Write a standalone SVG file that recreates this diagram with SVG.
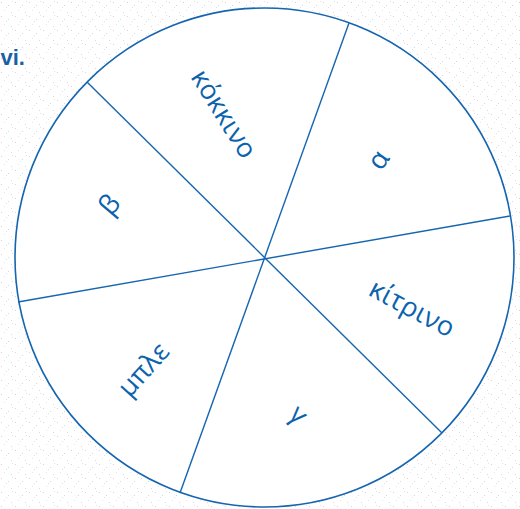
<svg xmlns="http://www.w3.org/2000/svg" width="520" height="509" viewBox="0 0 520 509">
<defs>
<pattern id="speck" width="14" height="14" patternUnits="userSpaceOnUse">
<rect width="14" height="14" fill="#ffffff"/>
<rect x="1" y="2" width="1" height="1" fill="#f0c9d4"/>
<rect x="8" y="5" width="1" height="1" fill="#c6def2"/>
<rect x="4" y="10" width="1" height="1" fill="#e6e6e6"/>
<rect x="11" y="12" width="1" height="1" fill="#eed0da"/>
<rect x="12" y="1" width="1" height="1" fill="#e3e3e3"/>
<rect x="6" y="7" width="1" height="1" fill="#d2e5f5"/>
</pattern>
<style>
.wheel{fill:#ffffff;stroke:#1565b0;stroke-width:1.6}
.div{stroke:#1565b0;stroke-width:1.4;fill:none}
.lbl{font-family:"Open Sans","Noto Sans",sans-serif;font-size:27px;fill:#0b63ad;text-anchor:middle}
.num{font-family:"Liberation Sans",Arial,sans-serif;font-size:22px;font-weight:bold;fill:#1a5fa3}
</style>
</defs>
<rect width="520" height="509" fill="url(#speck)"/>
<text class="num" x="0.5" y="65">vi.</text>
<g id="wheel">
<circle class="wheel" cx="264.5" cy="257.5" r="249.5"/>
</g>
<g id="connectors">
<line class="div" x1="87" y1="82" x2="442" y2="433"/>
<line class="div" x1="349" y1="23" x2="180" y2="493"/>
<line class="div" x1="510" y1="216" x2="18" y2="302"/>
</g>
<g id="sector-kokkino"><text class="lbl" transform="translate(222,115) rotate(58)" y="7">κόκκινο</text></g>
<g id="sector-alpha"><text class="lbl" transform="translate(380,161) rotate(-55)" y="7">α</text></g>
<g id="sector-kitrino"><text class="lbl" transform="translate(411,310) rotate(28)" y="7">κίτρινο</text></g>
<g id="sector-gamma"><text class="lbl" transform="translate(297,416) rotate(45)" y="7">γ</text></g>
<g id="sector-ble"><text class="lbl" transform="translate(145,371) rotate(-48)" y="7">μπλε</text></g>
<g id="sector-beta"><text class="lbl" transform="translate(111,206) rotate(-50)" y="7">β</text></g>
</svg>
